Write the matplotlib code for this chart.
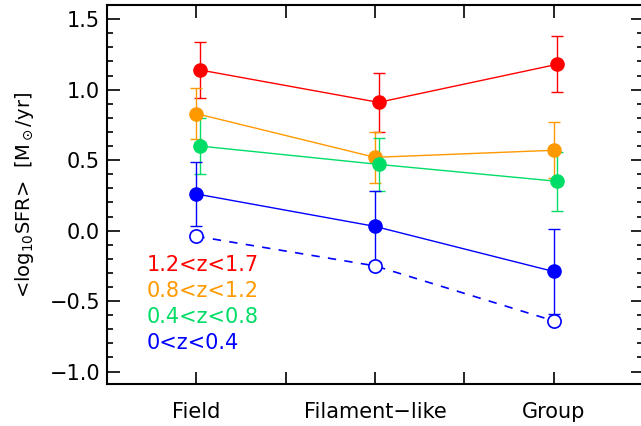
import matplotlib
matplotlib.use("Agg")
import matplotlib.pyplot as plt
from matplotlib.ticker import MultipleLocator

# environments on x axis
envs = ["Field", "Filament\u2212like", "Group"]
xpos = [1, 2, 3]

# mean log10 SFR per redshift bin, with errors
labels = ["1.2<z<1.7", "0.8<z<1.2", "0.4<z<0.8", "0<z<0.4"]
colors = ["#ff0000", "#ff9900", "#00dd66", "#0000ff"]
sfr = [
    [1.14, 0.91, 1.18],
    [0.83, 0.52, 0.57],
    [0.60, 0.47, 0.35],
    [0.26, 0.03, -0.29],
]
err = [
    [0.20, 0.21, 0.20],
    [0.18, 0.18, 0.20],
    [0.20, 0.19, 0.21],
    [0.23, 0.25, 0.30],
]
offsets = [0.02, 0.0, 0.02, 0.0]

# open circles, dashed line (lowest bin, alternative)
sfr_open = [-0.04, -0.25, -0.64]

fig = plt.figure(figsize=(6.41, 4.26), dpi=100)
ax = fig.add_axes([0.167, 0.098, 0.836, 0.89])

for i in range(len(labels)):
    xs = [x + offsets[i] for x in xpos]
    ax.errorbar(xs, sfr[i], yerr=err[i], color=colors[i], marker='o', ms=9.5,
                lw=1, elinewidth=1, capsize=4, capthick=1, zorder=3)

ax.plot(xpos, sfr_open, color="#0000ff", ls=(0, (5, 5)), lw=1.2, marker='o', ms=9.5,
        mfc='white', mec="#0000ff", mew=1.2, zorder=4)

# legend as coloured text
for i, lab in enumerate(labels):
    ax.text(0.72, -0.245 - 0.183 * i, lab, color=colors[i], fontsize=15,
            va='center', ha='left')

ax.set_xlim(0.5, 3.5)
ax.set_ylim(-1.09, 1.6)
ax.set_xticks(xpos)
ax.set_xticklabels(envs)
ax.xaxis.set_minor_locator(MultipleLocator(0.5))
ax.yaxis.set_minor_locator(MultipleLocator(0.1))
ax.set_yticks([-1.0, -0.5, 0.0, 0.5, 1.0, 1.5])
ax.set_yticklabels(["\u22121.0", "\u22120.5", "0.0", "0.5", "1.0", "1.5"])
ax.tick_params(which='both', direction='in', top=True, right=True, labelsize=15,
               width=1.2)
ax.tick_params(which='major', length=9)
ax.tick_params(axis='y', which='major', pad=5)
ax.tick_params(axis='x', which='major', pad=13)
ax.tick_params(which='minor', length=4)
ax.tick_params(axis='x', which='minor', length=9)
for s in ax.spines.values():
    s.set_linewidth(1.5)

ax.set_ylabel(r"<log$_{10}$SFR>  [M$_\odot$/yr]", fontsize=14, labelpad=10)

fig.savefig("out.png", dpi=100)
